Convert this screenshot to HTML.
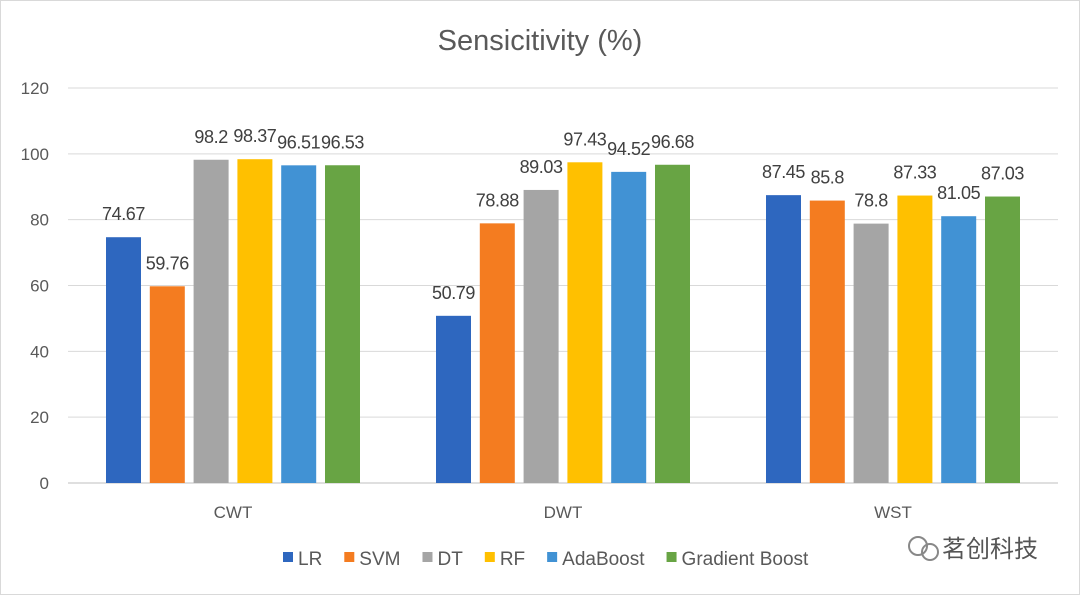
<!DOCTYPE html>
<html><head><meta charset="utf-8"><style>
body{margin:0;background:#fff;width:1080px;height:595px;overflow:hidden;font-family:"Liberation Sans","Noto Sans CJK SC",sans-serif;}
</style></head><body>
<svg id="chart" width="1080" height="595" xmlns="http://www.w3.org/2000/svg" font-family="Liberation Sans, Noto Sans CJK SC, sans-serif">
<rect x="0.5" y="0.5" width="1079" height="594" fill="#fff" stroke="#d9d9d9"/>
<text x="540" y="50" text-anchor="middle" font-size="29" fill="#595959">Sensicitivity (%)</text>
<g id="grid"></g><g id="bars"></g><g id="labels"></g><g id="legend"></g>
<g>
<circle cx="918" cy="546" r="9" fill="none" stroke="#888" stroke-width="2"/>
<circle cx="930" cy="552" r="8" fill="none" stroke="#888" stroke-width="2"/>
<text x="942" y="557" font-size="24" fill="#555">茗创科技</text>
</g>
</svg>
<script>
const categories=["CWT","DWT","WST"];
const seriesNames=["LR","SVM","DT","RF","AdaBoost","Gradient Boost"];
const colors=["#2E67BF","#F47C20","#A5A5A5","#FFC000","#4192D4","#68A444"];
const LR=[74.67,50.79,87.45];
const SVM=[59.76,78.88,85.8];
const DT=[98.2,89.03,78.8];
const RF=[98.37,97.43,87.33];
const AdaBoost=[96.51,94.52,81.05];
const GradientBoost=[96.53,96.68,87.03];
const series=[LR,SVM,DT,RF,AdaBoost,GradientBoost];
const yTicks=[0,20,40,60,80,100,120];
const NS="http://www.w3.org/2000/svg";
const x0=68,x1=1058,y0=483,yTop=88,yMax=120;
const y=v=>y0-(v/yMax)*(y0-yTop);
const catW=(x1-x0)/categories.length;
const cx=i=>x0+catW*(i+0.5);
const barW=35,pitch=43.8;
function mk(t,a,p){const e=document.createElementNS(NS,t);for(const k in a)e.setAttribute(k,a[k]);p.appendChild(e);return e;}
const grid=document.getElementById('grid'),bars=document.getElementById('bars'),labels=document.getElementById('labels'),legend=document.getElementById('legend');
yTicks.forEach(t=>{
 const l=mk('line',{x1:x0,x2:x1,y1:y(t),y2:y(t),stroke:t===0?'#bfbfbf':'#d9d9d9','stroke-width':1},grid);
 
 
 const tx=mk('text',{x:49,y:y(t)+6,'text-anchor':'end','font-size':17,fill:'#595959'},grid);
 tx.textContent=t;
 
 
});
categories.forEach((c,i)=>{
 const tx=mk('text',{x:cx(i),y:518,'text-anchor':'middle','font-size':17,fill:'#595959'},labels);
 tx.textContent=c;
 
 
 series.forEach((s,j)=>{
  const bx=cx(i)+(j-2.5)*pitch-barW/2;
  const r=mk('rect',{x:bx,y:y(s[i]),width:barW,height:y0-y(s[i]),fill:colors[j]},bars);
  
  
  const v=mk('text',{x:bx+barW/2,y:y(s[i])-17,'text-anchor':'middle','font-size':18,'letter-spacing':'-0.4',fill:'#404040'},labels);
  v.textContent=s[i];
  
  
 });
});
let lx=283;
seriesNames.forEach((n,j)=>{
 const g=mk('g',{},legend);
 
 
 mk('rect',{x:lx,y:552,width:10,height:10,fill:colors[j]},g);
 const t=mk('text',{x:lx+15,y:565,'font-size':19,fill:'#595959'},g);
 t.textContent=n;
 lx+=15+t.getComputedTextLength()+22;
});
</script>
</body></html>
